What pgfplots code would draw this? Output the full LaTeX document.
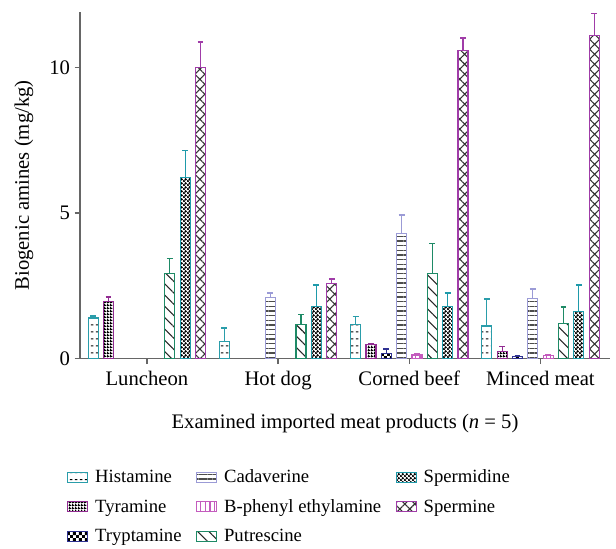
\documentclass[border=0pt]{standalone}
\usepackage{pgfplots}
\pgfplotsset{compat=1.18}
\usepackage{fontspec}
\setmainfont{Liberation Serif}
\usetikzlibrary{patterns,patterns.meta}

\definecolor{cHis}{HTML}{2A9DAA}
\definecolor{cTyr}{HTML}{922C92}
\definecolor{cTry}{HTML}{2E3192}
\definecolor{cCad}{HTML}{9B9BD6}
\definecolor{cPhe}{HTML}{C45CBE}
\definecolor{cPut}{HTML}{1E8A66}
\definecolor{cSpd}{HTML}{1E9AAA}
\definecolor{cSpm}{HTML}{A03CA8}
\definecolor{axgray}{HTML}{666666}

% small horizontal dashes (histamine)
\pgfdeclarepatternformonly{hdashes}{\pgfpointorigin}{\pgfqpoint{4pt}{5pt}}{\pgfqpoint{4pt}{5pt}}{%
  \pgfsetlinewidth{0.7pt}%
  \pgfpathmoveto{\pgfqpoint{0.8pt}{2.5pt}}\pgfpathlineto{\pgfqpoint{2.8pt}{2.5pt}}\pgfusepath{stroke}}
% dense dark grid with small holes (tyramine)
\pgfdeclarepatternformonly{darkgrid}{\pgfpointorigin}{\pgfqpoint{2pt}{2pt}}{\pgfqpoint{2pt}{2pt}}{%
  \pgfpathrectangle{\pgfpointorigin}{\pgfqpoint{2pt}{0.9pt}}%
  \pgfpathrectangle{\pgfpointorigin}{\pgfqpoint{0.9pt}{2pt}}\pgfusepath{fill}}
% coarse checkerboard (tryptamine)
\pgfdeclarepatternformonly{bigcheck}{\pgfpointorigin}{\pgfqpoint{4.4pt}{4.4pt}}{\pgfqpoint{4.4pt}{4.4pt}}{%
  \pgfpathrectangle{\pgfpointorigin}{\pgfqpoint{2.2pt}{2.2pt}}%
  \pgfpathrectangle{\pgfqpoint{2.2pt}{2.2pt}}{\pgfqpoint{2.2pt}{2.2pt}}\pgfusepath{fill}}
% staggered blobs (spermidine)
\pgfdeclarepatternformonly{blobs}{\pgfpointorigin}{\pgfqpoint{3.2pt}{3.2pt}}{\pgfqpoint{3.2pt}{3.2pt}}{%
  \pgfpathcircle{\pgfqpoint{0.8pt}{0.8pt}}{1.1pt}%
  \pgfpathcircle{\pgfqpoint{2.4pt}{2.4pt}}{1.1pt}\pgfusepath{fill}}

\pgfplotsset{
  amine/.style={draw=#1, line width=0.9pt,
    error bars/y dir=plus, error bars/y explicit,
    error bars/error bar style={color=#1, line width=0.9pt},
    error bars/error mark options={color=#1, line width=1.1pt, mark size=2.2pt, rotate=90}},
}

\begin{document}
\begin{tikzpicture}
\begin{axis}[
  scale only axis,
  width=397.5pt, height=260pt,
  ybar, bar width=7.5pt,
  xmin=-0.51, xmax=3.53,
  ymin=0, ymax=11.9,
  axis lines=left,
  axis line style={-, axgray, line width=1pt},
  every tick/.style={axgray, line width=1pt},
  tick align=outside,
  major tick length=4pt,
  xtick={0,1,2,3},
  xticklabels={Luncheon, Hot dog, Corned beef, Minced meat},
  ytick={0,5,10},
  /pgf/number format/assume math mode=true,
  tick label style={font=\fontsize{15.5}{17}\selectfont},
  xticklabel style={yshift=-2pt},
  label style={font=\fontsize{15.5}{17}\selectfont},
  xlabel={Examined imported meat products (\textit{n} = 5)},
  ylabel={Biogenic amines (mg/kg)},
  xlabel style={yshift=-11pt},
  ylabel style={yshift=5pt},
  legend columns=3,
  legend cell align=left,
  legend style={draw=none, fill=none, at={(-0.032,-0.305)}, anchor=north west,
    font=\fontsize{14}{16}\selectfont,
    row sep=7pt,
    /tikz/every odd column/.append style={column sep=3pt},
    /tikz/every even column/.append style={column sep=9pt}},
  legend image code/.code={\draw[#1, line width=0.9pt] (0pt,-3.5pt) rectangle (15pt,4pt);},
]
% Histamine
\addplot[amine=cHis, bar shift=-40.25pt, pattern=hdashes, pattern color=black]
  coordinates {(0,1.40) +- (0,0.07) (1,0.60) +- (0,0.46) (2,1.17) +- (0,0.27) (3,1.12) +- (0,0.93)};
% Cadaverine
\addplot[amine=cCad, bar shift=-5.75pt, pattern={Lines[angle=0,distance=3.5pt,line width=0.9pt]}, pattern color=black!70]
  coordinates {(1,2.09) +- (0,0.17) (2,4.29) +- (0,0.65) (3,2.07) +- (0,0.33)};
% Spermidine
\addplot[amine=cSpd, bar shift=28.75pt, pattern=blobs, pattern color=black]
  coordinates {(0,6.22) +- (0,0.92) (1,1.78) +- (0,0.75) (2,1.80) +- (0,0.45) (3,1.63) +- (0,0.90)};
% Tyramine
\addplot[amine=cTyr, bar shift=-28.75pt, pattern=darkgrid, pattern color=black]
  coordinates {(0,1.97) +- (0,0.15) (2,0.48) +- (0,0.05) (3,0.25) +- (0,0.17)};
% B-phenyl ethylamine
\addplot[amine=cPhe, bar shift=5.75pt, pattern={Lines[angle=90,distance=3.5pt,line width=0.8pt]}, pattern color=cPhe]
  coordinates {(2,0.13) +- (0,0.03) (3,0.10) +- (0,0.02)};
% Spermine
\addplot[amine=cSpm, bar shift=40.25pt, pattern={Hatch[angle=45,distance=5.3pt,line width=0.8pt]}, pattern color=black!80]
  coordinates {(0,10.00) +- (0,0.87) (1,2.58) +- (0,0.16) (2,10.57) +- (0,0.44) (3,11.10) +- (0,0.75)};
% Tryptamine
\addplot[amine=cTry, bar shift=-17.25pt, pattern=bigcheck, pattern color=black]
  coordinates {(2,0.17) +- (0,0.17) (3,0.07) +- (0,0.03)};
% Putrescine
\addplot[amine=cPut, bar shift=17.25pt, pattern={Lines[angle=-45,distance=6pt,line width=0.8pt]}, pattern color=black!85]
  coordinates {(0,2.93) +- (0,0.50) (1,1.17) +- (0,0.35) (2,2.93) +- (0,1.02) (3,1.20) +- (0,0.58)};
\legend{Histamine, Cadaverine, Spermidine, Tyramine, B-phenyl ethylamine, Spermine, Tryptamine, Putrescine}
\coordinate (bbTL) at (rel axis cs:-0.1509,1.0346);
\coordinate (bbBR) at (rel axis cs:1.0113,-0.5418);
\end{axis}
\useasboundingbox (bbTL) rectangle (bbBR);
\end{tikzpicture}
\end{document}
